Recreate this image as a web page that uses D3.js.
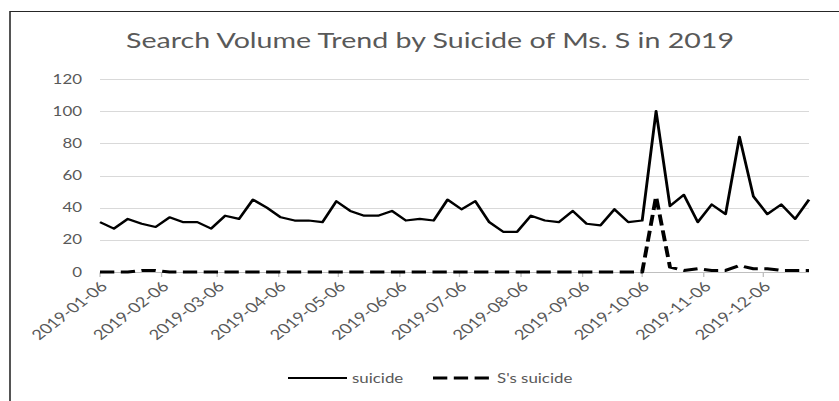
<!DOCTYPE html>
<html>
<head>
<meta charset="utf-8">
<script src="https://cdn.jsdelivr.net/npm/d3@7"></script>
<style>
  html, body { margin: 0; padding: 0; background: #fff; }
  svg { display: block; }
  text { font-family: Lato, "Open Sans", sans-serif; fill: #595959; }
</style>
</head>
<body>
<svg id="chart" width="839" height="401"></svg>
<script>
// weekly categories (Sundays of 2019)
var weeks = [
  "2019-01-06","2019-01-13","2019-01-20","2019-01-27",
  "2019-02-03","2019-02-10","2019-02-17","2019-02-24",
  "2019-03-03","2019-03-10","2019-03-17","2019-03-24","2019-03-31",
  "2019-04-07","2019-04-14","2019-04-21","2019-04-28",
  "2019-05-05","2019-05-12","2019-05-19","2019-05-26",
  "2019-06-02","2019-06-09","2019-06-16","2019-06-23","2019-06-30",
  "2019-07-07","2019-07-14","2019-07-21","2019-07-28",
  "2019-08-04","2019-08-11","2019-08-18","2019-08-25",
  "2019-09-01","2019-09-08","2019-09-15","2019-09-22","2019-09-29",
  "2019-10-06","2019-10-13","2019-10-20","2019-10-27",
  "2019-11-03","2019-11-10","2019-11-17","2019-11-24",
  "2019-12-01","2019-12-08","2019-12-15","2019-12-22","2019-12-29"
]

var suicide = [31,27,33,30,28,34,31,31,27,35,
               33,45,40,34,32,32,31,44,38,35,
               35,38,32,33,32,45,39,44,31,25,
               25,35,32,31,38,30,29,39,31,32,
               100,41,48,31,42,36,84,47,36,42,
               33,45]

var sSuicide = [0,0,0,1,1,0,0,0,0,0,
                0,0,0,0,0,0,0,0,0,0,
                0,0,0,0,0,0,0,0,0,0,
                0,0,0,0,0,0,0,0,0,0,
                47,3,1,2,1,1,4,2,2,1,
                1,1]

var tickLabels = ["2019-01-06","2019-02-06","2019-03-06","2019-04-06",
                  "2019-05-06","2019-06-06","2019-07-06","2019-08-06",
                  "2019-09-06","2019-10-06","2019-11-06","2019-12-06"]

var yTicks = [0, 20, 40, 60, 80, 100, 120]

var title = "Search Volume Trend by Suicide of Ms. S in 2019"

// the original picture is stretched sideways, so draw in a narrower
// space and let the viewBox widen it
var stretch = 1.3
var W = 839 / stretch, H = 401

var svg = d3.select('#chart')
  .attr('viewBox', '0 0 ' + W + ' ' + H)
  .attr('preserveAspectRatio', 'none')

var parse = d3.timeParse('%Y-%m-%d')

var x = d3.scaleTime()
  .domain([parse(weeks[0]), parse(weeks[weeks.length - 1])])
  .range([100 / stretch, 809 / stretch])

var y = d3.scaleLinear()
  .domain([0, 120])
  .range([272, 79])

// frame
svg.append('path')
  .attr('d', 'M' + (10 / stretch) + ',' + H + 'V11.5H' + (W + 5))
  .attr('fill', 'none')
  .attr('stroke', '#262626')
  .attr('stroke-width', 1.2)

// title
svg.append('text')
  .attr('x', 430 / stretch).attr('y', 48)
  .attr('text-anchor', 'middle')
  .style('font-size', '22px')
  .text(title)

// gridlines
svg.append('g')
  .selectAll('line')
  .data(yTicks).enter().append('line')
    .attr('x1', x.range()[0]).attr('x2', x.range()[1])
    .attr('y1', function(d) { return Math.round(y(d)) + 0.5 })
    .attr('y2', function(d) { return Math.round(y(d)) + 0.5 })
    .attr('stroke', function(d) { return d === 0 ? '#bfbfbf' : '#d9d9d9' })
    .attr('stroke-width', 1)

// y labels
svg.append('g')
  .selectAll('text')
  .data(yTicks).enter().append('text')
    .attr('x', 82 / stretch)
    .attr('y', function(d) { return y(d) })
    .attr('dy', '0.35em')
    .attr('text-anchor', 'end')
    .style('font-size', '13px')
    .text(function(d) { return d })

// x ticks + labels
var xg = svg.append('g')
  .selectAll('g')
  .data(tickLabels).enter().append('g')
    .attr('transform', function(d) { return 'translate(' + x(parse(d)) + ',' + Math.round(y(0)) + ')' })

xg.append('line')
  .attr('y1', 0.5).attr('y2', 5)
  .attr('stroke', '#bfbfbf')

xg.append('text')
  .attr('transform', 'translate(3,12) rotate(-45)')
  .attr('text-anchor', 'end')
  .attr('dy', '0.35em')
  .style('font-size', '14px')
  .text(function(d) { return d })

// lines
var line = function(vals) {
  return d3.line()
    .x(function(d, i) { return x(parse(weeks[i])) })
    .y(function(d) { return y(d) })(vals)
}

svg.append('path')
  .attr('d', line(suicide))
  .attr('fill', 'none')
  .attr('stroke', '#000')
  .attr('stroke-width', 2.2)
  .attr('stroke-linejoin', 'round')

svg.append('path')
  .attr('d', line(sSuicide))
  .attr('fill', 'none')
  .attr('stroke', '#000')
  .attr('stroke-width', 3)
  .attr('stroke-dasharray', '11,5')
  .attr('stroke-linejoin', 'round')

// legend
var legend = svg.append('g')
legend.append('line')
  .attr('x1', 288 / stretch).attr('x2', 347 / stretch)
  .attr('y1', 378).attr('y2', 378)
  .attr('stroke', '#000').attr('stroke-width', 2.2)
legend.append('text')
  .attr('x', 352 / stretch).attr('y', 378).attr('dy', '0.35em')
  .style('font-size', '13px')
  .text('suicide')
legend.append('line')
  .attr('x1', 433 / stretch).attr('x2', 492 / stretch)
  .attr('y1', 378).attr('y2', 378)
  .attr('stroke', '#000').attr('stroke-width', 3)
  .attr('stroke-dasharray', '11,5')
legend.append('text')
  .attr('x', 497 / stretch).attr('y', 378).attr('dy', '0.35em')
  .style('font-size', '13px')
  .text("S's suicide")
</script>
</body>
</html>
